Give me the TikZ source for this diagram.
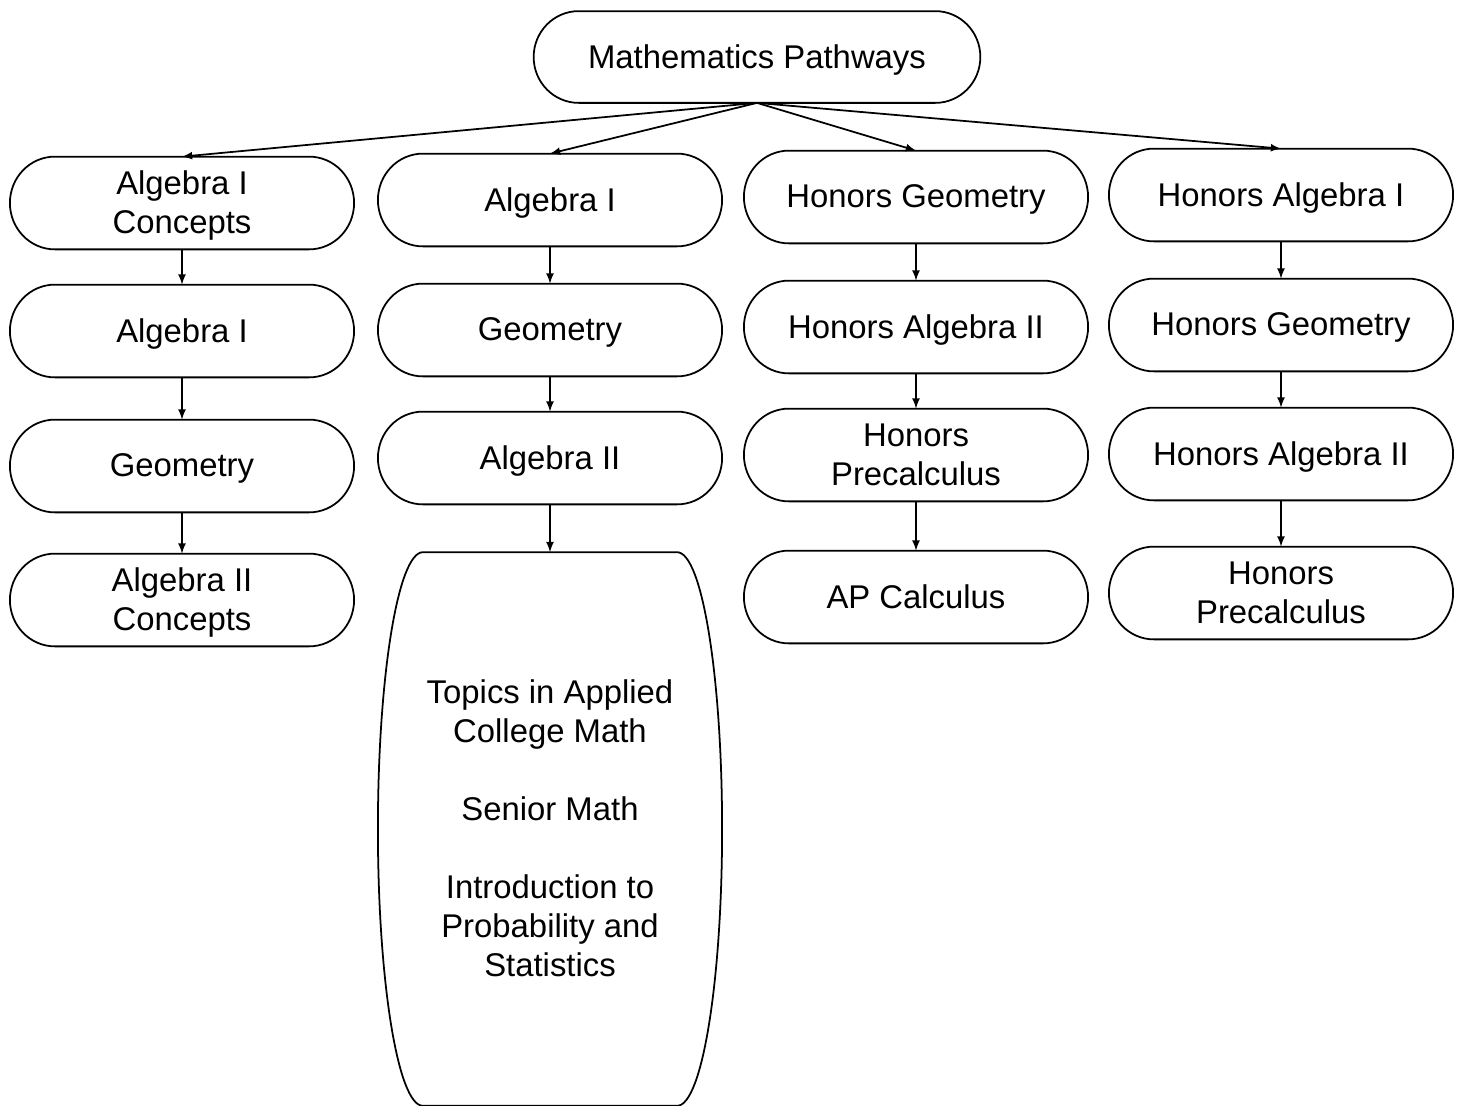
\documentclass[tikz,border=0pt]{standalone}
\usepackage{fontspec}
\setmainfont{Liberation Sans}
\usetikzlibrary{calc}

\begin{document}
\begin{tikzpicture}[x=0.02cm,y=-0.02cm,line width=1pt,
    course/.style={align=center,minimum width=6.85cm,minimum height=1.82cm,inner sep=0pt,
      text depth=0.02cm,font=\fontsize{18.7}{22.2}\selectfont}]
      \useasboundingbox (0,0) rectangle (1465,1106);
      % top of the tree
      \node[course,minimum width=8.9cm,minimum height=1.8cm] (root) at (757,57) {Mathematics Pathways};
      % first column
      \node[course] (a1) at (182,203) {Algebra I\\Concepts};
      \node[course] (a2) at (182,331) {Algebra I};
      \node[course] (a3) at (182,466) {Geometry};
      \node[course] (a4) at (182,600) {Algebra II\\Concepts};
      % second column
      \node[course] (b1) at (550,200) {Algebra I};
      \node[course] (b2) at (550,330) {Geometry};
      \node[course] (b3) at (550,458) {Algebra II};
      \node[course,minimum height=11.04cm] (b4) at (550,829) {Topics in Applied\\College Math\\[22.2pt]Senior Math\\[22.2pt]Introduction to\\Probability and\\Statistics};
      % third column
      \node[course] (c1) at (916,197) {Honors Geometry};
      \node[course] (c2) at (916,327) {Honors Algebra II};
      \node[course] (c3) at (916,455) {Honors\\Precalculus};
      \node[course] (c4) at (916,597) {AP Calculus};
      % fourth column
      \node[course] (d1) at (1281,195) {Honors Algebra I};
      \node[course] (d2) at (1281,325) {Honors Geometry};
      \node[course] (d3) at (1281,454) {Honors Algebra II};
      \node[course] (d4) at (1281,593) {Honors\\Precalculus};

      % outlines with curved ends
      \foreach \c in {root,a1,a2,a3,a4,b1,b2,b3,b4,c1,c2,c3,c4,d1,d2,d3,d4}
        \draw let \p1=(\c.north east), \p2=(\c.south west), \n1={(\y1-\y2)/2} in
          (\x2+0.9cm,\y1) -- (\x1-0.9cm,\y1)
          arc[start angle=90,end angle=-90,x radius=0.9cm,y radius=\n1]
          -- (\x2+0.9cm,\y2)
          arc[start angle=270,end angle=90,x radius=0.9cm,y radius=\n1] -- cycle;

      \foreach \c in {a1,b1,c1,d1}
        \draw[-latex] (root.south) -- (\c.north);
      \foreach \u/\v in {a1/a2,a2/a3,a3/a4,b1/b2,b2/b3,b3/b4,c1/c2,c2/c3,c3/c4,d1/d2,d2/d3,d3/d4}
        \draw[-latex] (\u.south) -- (\v.north);
\end{tikzpicture}
\end{document}
